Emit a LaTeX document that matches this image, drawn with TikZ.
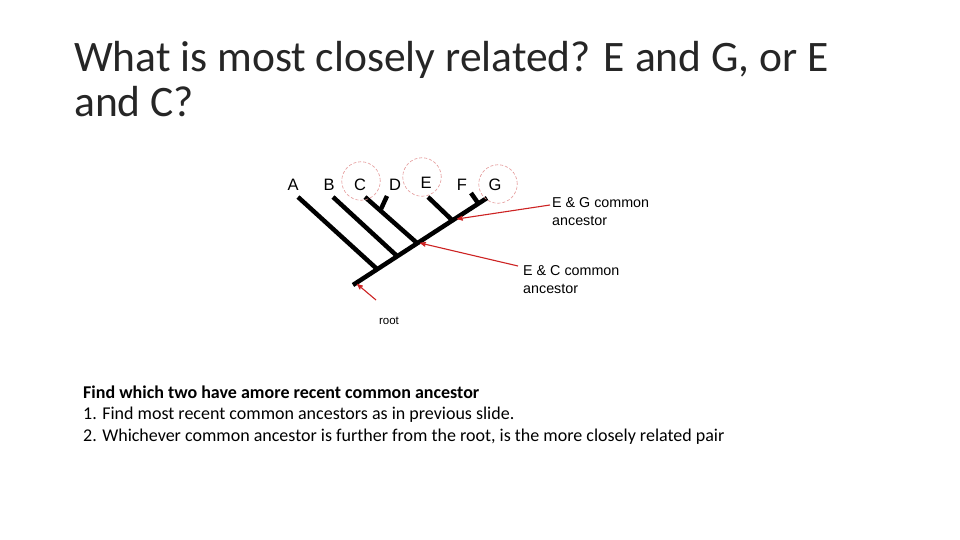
\documentclass[tikz,border=0pt]{standalone}
\usepackage{fontspec}
\setmainfont{Carlito}
\newfontfamily\arialfont{Liberation Sans}
\usetikzlibrary{arrows,positioning}
\definecolor{arrowred}{RGB}{205,35,35}
\definecolor{ringred}{RGB}{228,150,150}

\begin{document}
\begin{tikzpicture}[x=1pt, y=-1pt,
    branch/.style={line width=4.5pt},
    pointer/.style={->, >=stealth', draw=arrowred, line width=1.1pt},
    ring/.style={circle, draw=ringred, densely dashed, line width=0.6pt,
      minimum size=38.5pt, inner sep=0pt},
    taxon/.style={font=\arialfont\fontsize{16.5}{16.5}\selectfont, inner sep=0pt, anchor=base},
    note/.style={font=\arialfont\fontsize{14.3}{14.3}\selectfont, inner sep=0pt, anchor=base west},
    heading/.style={font=\fontsize{43.5}{43.5}\selectfont, text=black!85, inner sep=0pt, anchor=base west},
    body/.style={font=\fontsize{18}{18}\selectfont, inner sep=0pt, anchor=base west}
    ]

    \useasboundingbox[fill=white] (0,0) rectangle (960,540);

    % title
    \node[heading] (title1) at (74,72)  {What is most closely related? E and G, or E};
    \node[heading] (title2) at (74,117) {and C?};

    % tree
    \coordinate (root) at (353,285);
    \coordinate (tipG) at (487,198);
    \coordinate (jA)   at (377,269);
    \coordinate (jB)   at (397,256);
    \coordinate (jC)   at (417,243);
    \coordinate (jE)   at (452,220);
    \coordinate (jD)   at (381,209);
    \coordinate (jF)   at (478,203);
    \coordinate (tipA) at (298,197);
    \coordinate (tipB) at (333,197);
    \coordinate (tipC) at (365,197);
    \coordinate (tipD) at (387,196);
    \coordinate (tipE) at (428,197);
    \coordinate (tipF) at (471,193);

    \draw[branch] (root) -- (tipG);
    \draw[branch] (tipA) -- (jA);
    \draw[branch] (tipB) -- (jB);
    \draw[branch] (tipC) -- (jC);
    \draw[branch] (tipD) -- (jD);
    \draw[branch] (tipE) -- (jE);
    \draw[branch] (tipF) -- (jF);

    \node[taxon] (A) at (293,190) {A};
    \node[taxon] (B) at (329,190) {B};
    \node[taxon] (C) at (360,190) {C};
    \node[taxon] (D) at (395,190) {D};
    \node[taxon] (E) at (426,189) {E};
    \node[taxon] (F) at (462,190) {F};
    \node[taxon] (G) at (495,190) {G};

    \node[ring] (ringC) at (361,181) {};
    \node[ring] (ringE) at (422,177) {};
    \node[ring] (ringG) at (498,184) {};

    % annotations
    \node[note] (eg1) at (552,207) {E \& G common};
    \node[note] (eg2) at (552,225) {ancestor};
    \node[note] (ec1) at (523,275) {E \& C common};
    \node[note] (ec2) at (523,293) {ancestor};
    \node[font=\arialfont\fontsize{11.5}{11.5}\selectfont, inner sep=0pt] (rootlabel) at (389,321) {root};

    \coordinate (egstart)   at (550,205);
    \coordinate (ecstart)   at (518,266);
    \coordinate (rootstart) at (376,300);
    \draw[pointer] (egstart) -- (457,219);
    \draw[pointer] (ecstart) -- (420,243);
    \draw[pointer] (rootstart) -- (357,284);

    % explanation
    \node[body, font=\bfseries\fontsize{18}{18}\selectfont] (task) at (83,398) {Find which two have amore recent common ancestor};
    \node[body] (step1) at (83,419) {1. Find most recent common ancestors as in previous slide.};
    \node[body] (step2) at (83,441) {2. Whichever common ancestor is further from the root, is the more closely related pair};
\end{tikzpicture}
\end{document}
